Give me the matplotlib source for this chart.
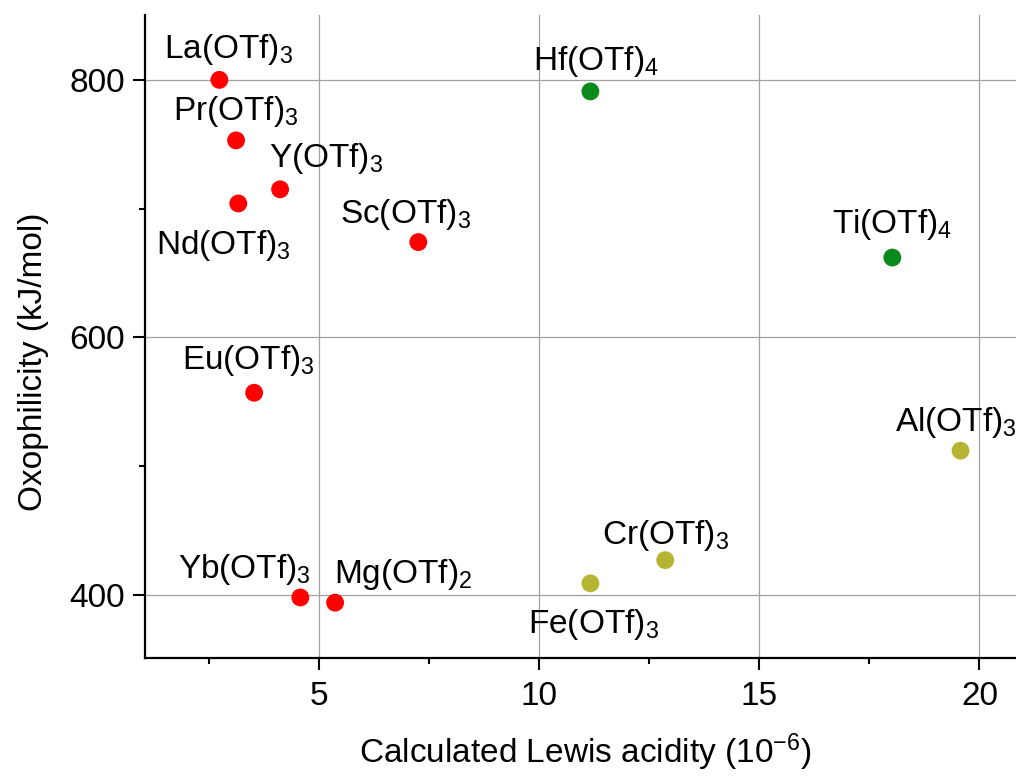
import numpy as np
import matplotlib
matplotlib.use("Agg")
import matplotlib.pyplot as plt
from matplotlib.ticker import MultipleLocator

plt.rcParams['font.family'] = ['Liberation Sans', 'DejaVu Sans']
plt.rcParams['mathtext.default'] = 'regular'

# data
names = ['La(OTf)$_3$', 'Pr(OTf)$_3$', 'Y(OTf)$_3$', 'Nd(OTf)$_3$', 'Sc(OTf)$_3$',
         'Eu(OTf)$_3$', 'Yb(OTf)$_3$', 'Mg(OTf)$_2$',
         'Hf(OTf)$_4$', 'Ti(OTf)$_4$',
         'Al(OTf)$_3$', 'Cr(OTf)$_3$', 'Fe(OTf)$_3$']
lewis = [2.73, 3.11, 4.11, 3.16, 7.25, 3.52, 4.57, 5.36, 11.16, 18.02, 19.57, 12.86, 11.16]
oxo = [800, 753, 715, 704, 674, 557, 398, 394, 791, 662, 512, 427, 409]
group = ['r', 'r', 'r', 'r', 'r', 'r', 'r', 'r', 'g', 'g', 'o', 'o', 'o']

colors = {'r': '#ff0000', 'g': '#0a8a1a', 'o': '#b5b533'}

# label offsets in points (dx, dy, ha)
offsets = [(6.5, 22, 'center'), (0, 20.5, 'center'), (33, 22, 'center'),
           (-11, -30, 'center'), (-9, 20, 'center'), (-4, 23, 'center'),
           (-40, 20.5, 'center'), (49, 20.5, 'center'), (4, 21.5, 'center'),
           (0, 24, 'center'), (-47.5, 20.5, 'left'), (0, 18, 'center'),
           (2, -30, 'center')]

fig = plt.figure(figsize=(10.16, 7.8), dpi=100)
ax = fig.add_axes([0.1427, 0.1564, 0.8573 + 0.01, 0.8246])

ax.grid(True, color='#a0a0a0', linewidth=0.9)
ax.set_axisbelow(True)

for i in range(len(names)):
    ax.scatter(lewis[i], oxo[i], s=165, color=colors[group[i]], edgecolors='none', zorder=3)
    dx, dy, ha = offsets[i]
    ax.annotate(names[i], (lewis[i], oxo[i]), xytext=(dx, dy), textcoords='offset points',
                ha=ha, va='center', fontsize=24, annotation_clip=False)

ax.set_xlim(1.04, 20.83 + 0.01 * 10.16 * 100 / 44)
ax.set_ylim(351, 850.5)
ax.xaxis.set_major_locator(MultipleLocator(5))
ax.xaxis.set_minor_locator(MultipleLocator(2.5))
ax.yaxis.set_major_locator(MultipleLocator(200))
ax.yaxis.set_minor_locator(MultipleLocator(100))

for s in ['top', 'right']:
    ax.spines[s].set_visible(False)
for s in ['left', 'bottom']:
    ax.spines[s].set_linewidth(1.6)

ax.tick_params(which='major', direction='out', length=8.5, width=1.5, labelsize=24)
ax.tick_params(axis='x', which='major', pad=8)
ax.tick_params(axis='y', which='major', pad=6)
ax.tick_params(which='minor', direction='out', length=4.5, width=1.5)

ax.set_xlabel('Calculated Lewis acidity (10$^{-6}$)', fontsize=24, labelpad=14)
ax.set_ylabel('Oxophilicity (kJ/mol)', fontsize=24)
ax.yaxis.set_label_coords(-0.109, 0.46)

fig.savefig('out.png', dpi=100)
